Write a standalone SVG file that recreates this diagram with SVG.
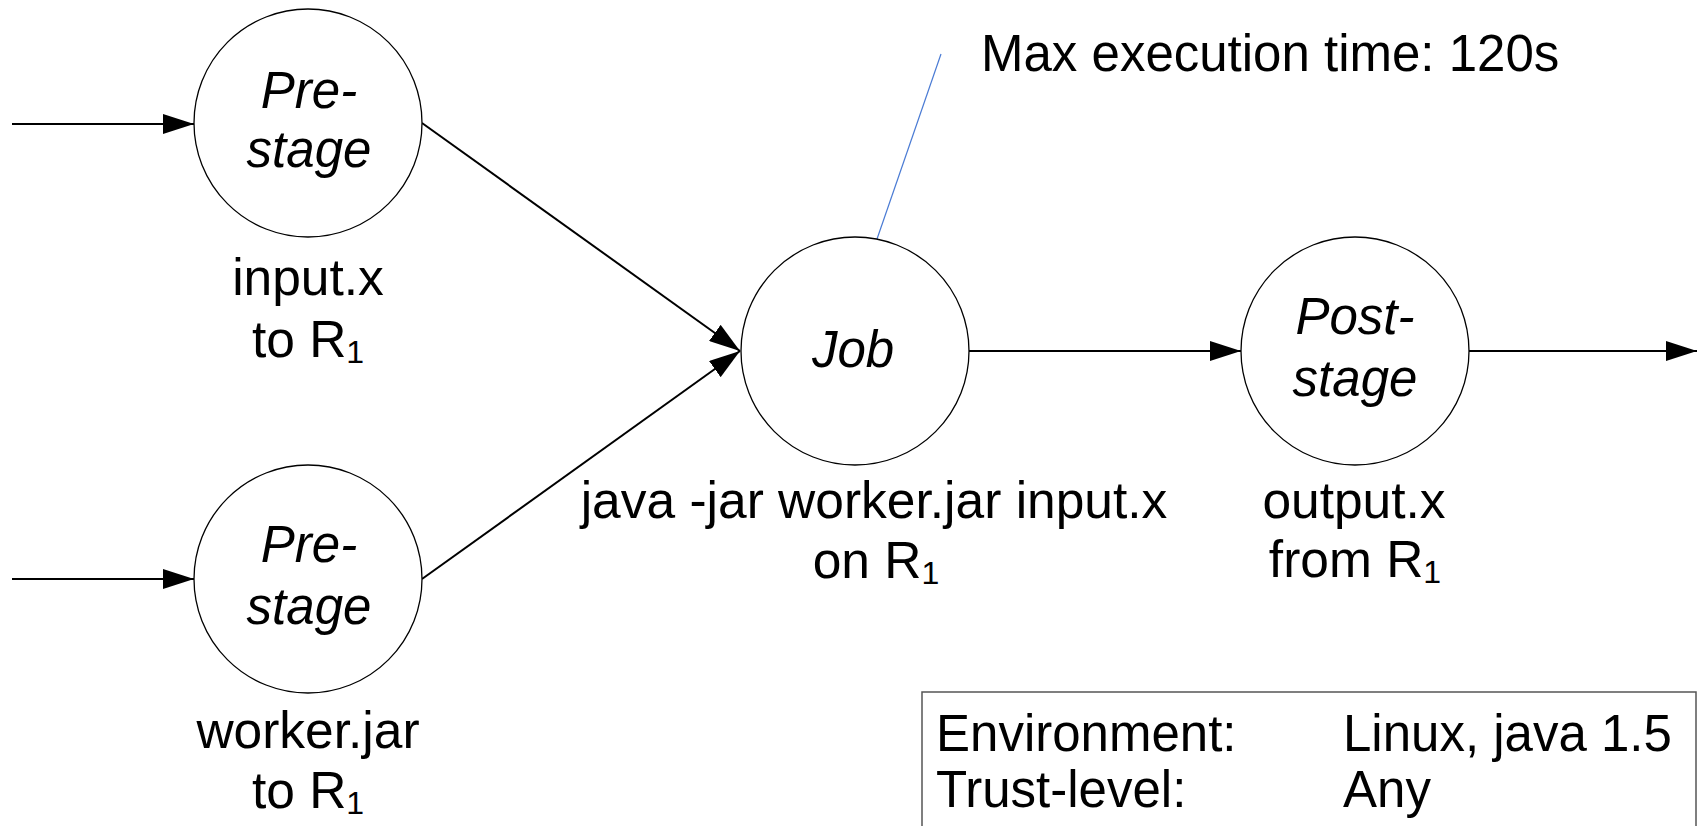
<svg xmlns="http://www.w3.org/2000/svg" width="1698" height="826" viewBox="0 0 1698 826">
  <style>
    .node { fill: #ffffff; stroke: #000000; stroke-width: 1.3; }
    .edge { fill: none; stroke: #000000; stroke-width: 2; }
    .note { fill: none; stroke: #4a7bd4; stroke-width: 1.2; }
    .name { font-family: "Liberation Sans", Arial, sans-serif; font-style: italic; font-size: 51px; fill: #000; text-anchor: middle; }
    .label { font-family: "Liberation Sans", Arial, sans-serif; font-size: 51.5px; fill: #000; text-anchor: middle; }
    .info { font-family: "Liberation Sans", Arial, sans-serif; font-size: 51px; fill: #000; }
    .sub { font-size: 32px; }
  </style>
  <defs>
    <marker id="arrow" markerUnits="userSpaceOnUse" markerWidth="31" markerHeight="20" refX="31" refY="10" orient="auto">
      <path d="M0,0 L31,10 L0,20 Z" fill="#000000"/>
    </marker>
  </defs>

  <rect width="1698" height="826" fill="#ffffff"/>

  <!-- connectors -->
  <g id="connectors">
    <line class="edge" x1="12" y1="124" x2="194" y2="124" marker-end="url(#arrow)"/>
    <line class="edge" x1="12" y1="579" x2="194" y2="579" marker-end="url(#arrow)"/>
    <line class="edge" x1="422" y1="123" x2="740" y2="351" marker-end="url(#arrow)"/>
    <line class="edge" x1="422" y1="579" x2="740" y2="351" marker-end="url(#arrow)"/>
    <line class="edge" x1="969" y1="351" x2="1241" y2="351" marker-end="url(#arrow)"/>
    <line class="edge" x1="1469" y1="351" x2="1697" y2="351" marker-end="url(#arrow)"/>
    <line class="note" x1="941" y1="54" x2="877" y2="239"/>
  </g>

  <!-- upper pre-stage: input.x -->
  <g id="prestage-input">
    <circle class="node" cx="308" cy="123" r="114"/>
    <text class="name" x="309" y="108">Pre-</text>
    <text class="name" x="309" y="167">stage</text>
    <text class="label" x="308" y="295">input.x</text>
    <text class="label" x="308" y="357">to R<tspan class="sub" dy="6">1</tspan></text>
  </g>

  <!-- lower pre-stage: worker.jar -->
  <g id="prestage-worker">
    <circle class="node" cx="308" cy="579" r="114"/>
    <text class="name" x="309" y="562">Pre-</text>
    <text class="name" x="309" y="624">stage</text>
    <text class="label" x="308" y="748">worker.jar</text>
    <text class="label" x="308" y="808">to R<tspan class="sub" dy="6">1</tspan></text>
  </g>

  <!-- job -->
  <g id="job">
    <circle class="node" cx="855" cy="351" r="114"/>
    <text class="name" x="853" y="367">Job</text>
    <text class="label" x="874" y="518">java -jar worker.jar input.x</text>
    <text class="label" x="876" y="578">on R<tspan class="sub" dy="6">1</tspan></text>
  </g>

  <!-- post-stage: output.x -->
  <g id="poststage-output">
    <circle class="node" cx="1355" cy="351" r="114"/>
    <text class="name" x="1355" y="334">Post-</text>
    <text class="name" x="1355" y="396">stage</text>
    <text class="label" x="1354" y="518">output.x</text>
    <text class="label" x="1355" y="577">from R<tspan class="sub" dy="6">1</tspan></text>
  </g>

  <!-- execution time note -->
  <g id="time-note">
    <text class="info" x="981" y="71">Max execution time: 120s</text>
  </g>

  <!-- requirements table -->
  <g id="requirements">
    <rect x="922" y="692" width="774" height="200" fill="#ffffff" stroke="#555555" stroke-width="1.5"/>
    <text class="info" x="936" y="751">Environment:</text>
    <text class="info" x="1343" y="751">Linux, java 1.5</text>
    <text class="info" x="936" y="807">Trust-level:</text>
    <text class="info" x="1343" y="807">Any</text>
  </g>
</svg>
